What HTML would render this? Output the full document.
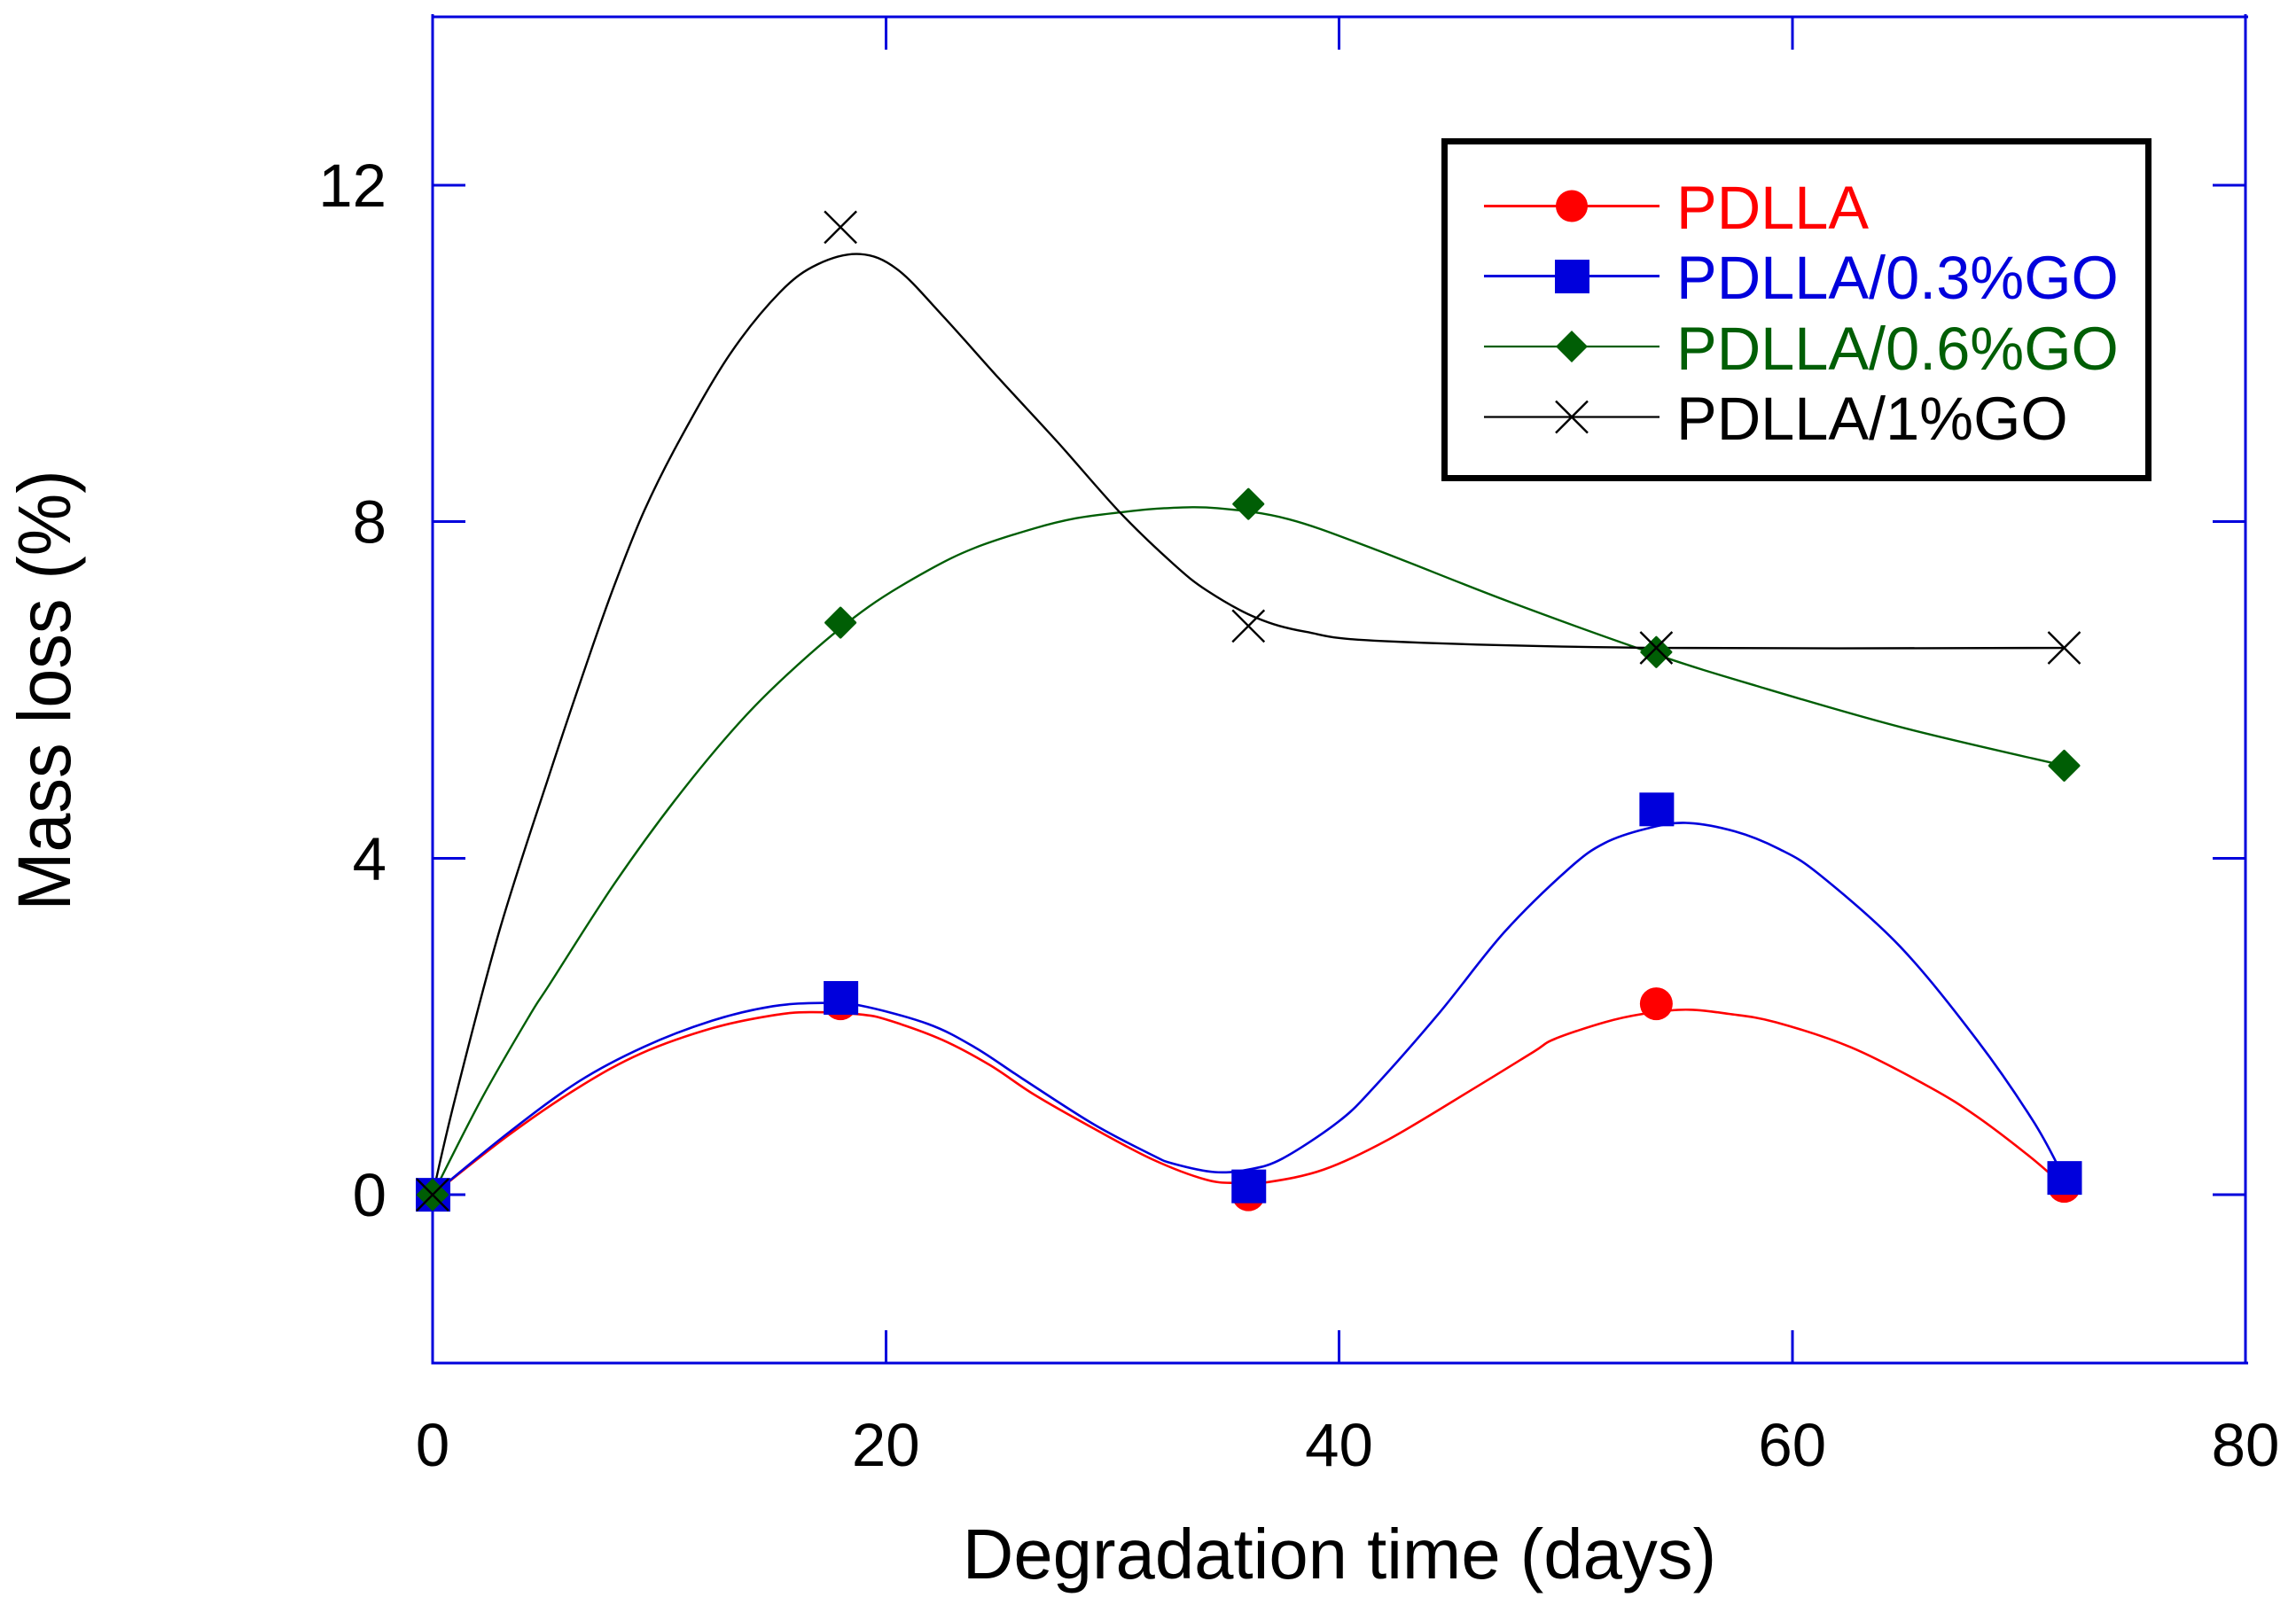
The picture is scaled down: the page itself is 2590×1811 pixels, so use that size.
<!DOCTYPE html>
<html lang="en">
<head>
<meta charset="utf-8">
<title>Mass loss vs degradation time</title>
<style>
html,body{margin:0;padding:0;background:#fff;width:2590px;height:1811px;overflow:hidden}
svg{display:block;font-family:"Liberation Sans",Arial,sans-serif}
</style>
</head>
<body>
<svg id="chart" xmlns="http://www.w3.org/2000/svg" width="2590" height="1811" viewBox="0 0 2590 1811">
  <rect x="0" y="0" width="2590" height="1811" fill="#ffffff"/>
  <g id="axes"></g>
  <g id="series"></g>
  <text x="1511" y="1781" font-size="79.7" text-anchor="middle" fill="#000">Degradation time (days)</text>
  <text transform="translate(79 779) rotate(-90) scale(0.99 1.06)" font-size="80" text-anchor="middle" fill="#000">Mass loss (%)</text>
  <g id="legend">
    <rect x="1629.5" y="159.5" width="794" height="380" fill="#fff" stroke="#000" stroke-width="7"/>
    <g>
      <line x1="1674" x2="1872" y1="232.5" y2="232.5" stroke="#ff0000" stroke-width="3"/>
      <circle cx="1773" cy="232.5" r="18" fill="#ff0000"/>
      <text x="1891" y="258" font-size="68.5" fill="#ff0000">PDLLA</text>
    </g>
    <g>
      <line x1="1674" x2="1872" y1="311.5" y2="311.5" stroke="#0000dc" stroke-width="3"/>
      <rect x="1754" y="293" width="39" height="38" fill="#0000dc"/>
      <text x="1891" y="337" font-size="68.5" fill="#0000dc">PDLLA/0.3%GO</text>
    </g>
    <g>
      <line x1="1674" x2="1872" y1="391" y2="391" stroke="#005e05" stroke-width="2.2"/>
      <polygon points="1773,373 1791,391 1773,409 1755,391" fill="#005e05"/>
      <text x="1891" y="417" font-size="68.5" fill="#005e05">PDLLA/0.6%GO</text>
    </g>
    <g>
      <line x1="1674" x2="1872" y1="470.5" y2="470.5" stroke="#000" stroke-width="2.2"/>
      <path d="M1755 452.5L1791 488.5M1791 452.5L1755 488.5" stroke="#000" stroke-width="2.4" fill="none"/>
      <text x="1891" y="496" font-size="68.5" fill="#000">PDLLA/1%GO</text>
    </g>
  </g>
</svg>
<script>
// Axis tick values
const xTicks = [0, 20, 40, 60, 80];
const yTicks = [0, 4, 8, 12];
const xInnerTicks = [20, 40, 60];

// Measured data points (days, mass loss %)
const days = [0, 18, 36, 54, 72];
const pdllaValues = [0, 2.27, 0, 2.27, 0.1];
const go03Values = [0, 2.34, 0.1, 4.58, 0.2];
const go06Values = [0, 6.8, 8.21, 6.45, 5.1];
const go1Values = [0, 11.5, 6.76, 6.5, 6.5];

// Smoothed curves as [day, mass loss %]
const pdllaCurve = [[0,0],[3.36,0.71],[6.47,1.28],[9.2,1.68],[12.34,1.98],[14.95,2.13],[16.64,2.17],[19,2.14],[20.29,2.06],[22.5,1.84],[24.6,1.54],[26.55,1.19],[29.16,0.79],[31.77,0.42],[34.12,0.18],[35.5,0.14],[36.85,0.15],[39.33,0.3],[42.2,0.66],[45.99,1.27],[48.59,1.7],[49.5,1.85],[51.72,2.05],[53.42,2.15],[55.3,2.2],[57.2,2.15],[59.28,2.05],[62.61,1.75],[66.06,1.28],[68.15,0.93],[70.5,0.45],[72,0.1]];
const go03Curve = [[0,0],[3.36,0.74],[6.47,1.35],[9.34,1.76],[12.34,2.07],[15,2.24],[17.16,2.28],[18.86,2.25],[21.86,2.03],[23.94,1.75],[26.03,1.38],[29.16,0.84],[31.77,0.47],[32.68,0.37],[34.5,0.27],[36,0.3],[37.5,0.43],[39.98,0.87],[41.55,1.28],[44.42,2.16],[47.29,3.12],[50.16,3.88],[51.72,4.18],[53.55,4.35],[55.3,4.42],[57.46,4.32],[59.42,4.11],[61.18,3.81],[64.76,2.95],[68.15,1.84],[70.67,0.86],[72,0.2]];
const go06Curve = [[0,0],[2.16,1.14],[4.3,2.14],[5.16,2.5],[8.03,3.7],[10.9,4.76],[13.84,5.7],[16.58,6.41],[19.25,6.99],[21.86,7.42],[23.94,7.69],[26.55,7.92],[28.38,8.04],[30.33,8.11],[32.29,8.16],[34.64,8.16],[37.77,8.03],[41.6,7.67],[47.4,7.06],[53.9,6.43],[58.4,6.05],[64.9,5.55],[72,5.1]];
const go1Curve = [[0,0],[0.99,1.14],[2.95,3.14],[5.16,5],[6.92,6.41],[8.03,7.25],[9.34,8.13],[10.9,8.97],[13.12,9.99],[15.34,10.73],[17,11.06],[18.86,11.18],[20.5,11],[22.5,10.45],[25,9.7],[27.6,8.94],[30.33,8.11],[32.68,7.5],[34.18,7.18],[36.33,6.86],[38.55,6.69],[42,6.58],[54,6.5],[72,6.5]];

const SVGNS = 'http://www.w3.org/2000/svg';
const LEFT = 488, RIGHT = 2533, TOP = 19, BOTTOM = 1538;
const X_MIN = 0, X_MAX = 80, Y_MIN = -2, Y_MAX = 14;
function xScale(v) { return LEFT + (v - X_MIN) / (X_MAX - X_MIN) * (RIGHT - LEFT); }
function yScale(v) { return BOTTOM - (v - Y_MIN) / (Y_MAX - Y_MIN) * (BOTTOM - TOP); }

const BLUE = '#0000dc', RED = '#ff0000', GREEN = '#005e05', BLACK = '#000000';
const axesGroup = document.getElementById('axes');
const seriesGroup = document.getElementById('series');

function makeLine(x1, y1, x2, y2, color, width) {
  const el = document.createElementNS(SVGNS, 'line');
  el.setAttribute('x1', x1);
  el.setAttribute('y1', y1);
  el.setAttribute('x2', x2);
  el.setAttribute('y2', y2);
  el.setAttribute('stroke', color);
  el.setAttribute('stroke-width', width);
  el.setAttribute('shape-rendering', 'crispEdges');
  return el;
}

// Frame
const frameLeft = makeLine(LEFT, TOP - 3, LEFT, BOTTOM + 1.5, BLUE, 3);


axesGroup.appendChild(frameLeft);
const frameRight = makeLine(RIGHT, TOP - 3, RIGHT, BOTTOM + 1.5, BLUE, 3);


axesGroup.appendChild(frameRight);
const frameTop = makeLine(LEFT - 1.5, TOP, RIGHT + 3, TOP, BLUE, 3);


axesGroup.appendChild(frameTop);
const frameBottom = makeLine(LEFT - 1.5, BOTTOM, RIGHT + 3, BOTTOM, BLUE, 3);


axesGroup.appendChild(frameBottom);

// Ticks
const TICK = 37;
xInnerTicks.forEach(function (t) {
  const bottomTick = makeLine(xScale(t), BOTTOM, xScale(t), BOTTOM - TICK, BLUE, 3);
  
  
  axesGroup.appendChild(bottomTick);
  const topTick = makeLine(xScale(t), TOP, xScale(t), TOP + TICK, BLUE, 3);
  
  
  axesGroup.appendChild(topTick);
});
yTicks.forEach(function (t) {
  const leftTick = makeLine(LEFT, yScale(t), LEFT + TICK, yScale(t), BLUE, 3);
  
  
  axesGroup.appendChild(leftTick);
  const rightTick = makeLine(RIGHT, yScale(t), RIGHT - TICK, yScale(t), BLUE, 3);
  
  
  axesGroup.appendChild(rightTick);
});

// Tick labels
xTicks.forEach(function (t) {
  const label = document.createElementNS(SVGNS, 'text');
  label.setAttribute('x', xScale(t));
  label.setAttribute('y', 1654);
  label.setAttribute('font-size', 69);
  label.setAttribute('text-anchor', 'middle');
  label.textContent = String(t);
  
  
  axesGroup.appendChild(label);
});
yTicks.forEach(function (t) {
  const label = document.createElementNS(SVGNS, 'text');
  label.setAttribute('x', 436);
  label.setAttribute('y', yScale(t) + 24);
  label.setAttribute('font-size', 69);
  label.setAttribute('text-anchor', 'end');
  label.textContent = String(t);
  
  
  axesGroup.appendChild(label);
});

// Smooth path through curve points (Catmull-Rom to Bezier)
function curvePath(points) {
  const p = points.map(function (d) { return [xScale(d[0]), yScale(d[1])]; });
  let d = 'M' + p[0][0].toFixed(2) + ' ' + p[0][1].toFixed(2);
  for (let i = 0; i < p.length - 1; i++) {
    const p0 = p[Math.max(i - 1, 0)], p1 = p[i], p2 = p[i + 1], p3 = p[Math.min(i + 2, p.length - 1)];
    const c1x = p1[0] + (p2[0] - p0[0]) / 6, c1y = p1[1] + (p2[1] - p0[1]) / 6;
    const c2x = p2[0] - (p3[0] - p1[0]) / 6, c2y = p2[1] - (p3[1] - p1[1]) / 6;
    d += 'C' + c1x.toFixed(2) + ' ' + c1y.toFixed(2) + ' ' + c2x.toFixed(2) + ' ' + c2y.toFixed(2) + ' ' + p2[0].toFixed(2) + ' ' + p2[1].toFixed(2);
  }
  return d;
}
function makeCurve(points, color, width) {
  const el = document.createElementNS(SVGNS, 'path');
  el.setAttribute('d', curvePath(points));
  el.setAttribute('fill', 'none');
  el.setAttribute('stroke', color);
  el.setAttribute('stroke-width', width);
  return el;
}

const pdllaLine = makeCurve(pdllaCurve, RED, 2.6);


seriesGroup.appendChild(pdllaLine);
const go03Line = makeCurve(go03Curve, BLUE, 2.6);


seriesGroup.appendChild(go03Line);
const go06Line = makeCurve(go06Curve, GREEN, 2.4);


seriesGroup.appendChild(go06Line);
const go1Line = makeCurve(go1Curve, BLACK, 2.4);


seriesGroup.appendChild(go1Line);

// Markers
days.forEach(function (day, i) {
  const c = document.createElementNS(SVGNS, 'circle');
  c.setAttribute('cx', xScale(day));
  c.setAttribute('cy', yScale(pdllaValues[i]));
  c.setAttribute('r', 18.5);
  c.setAttribute('fill', RED);
  
  
  seriesGroup.appendChild(c);
});
days.forEach(function (day, i) {
  const s = document.createElementNS(SVGNS, 'rect');
  s.setAttribute('x', xScale(day) - 19);
  s.setAttribute('y', yScale(go03Values[i]) - 19);
  s.setAttribute('width', 39);
  s.setAttribute('height', 38);
  s.setAttribute('fill', BLUE);
  
  
  seriesGroup.appendChild(s);
});
days.forEach(function (day, i) {
  const cx = xScale(day), cy = yScale(go06Values[i]), r = 16.5;
  const g = document.createElementNS(SVGNS, 'polygon');
  g.setAttribute('points', cx + ',' + (cy - r) + ' ' + (cx + r) + ',' + cy + ' ' + cx + ',' + (cy + r) + ' ' + (cx - r) + ',' + cy);
  g.setAttribute('fill', GREEN);
  g.setAttribute('stroke', GREEN);
  g.setAttribute('stroke-width', 3);
  g.setAttribute('stroke-linejoin', 'round');
  
  
  seriesGroup.appendChild(g);
});
days.forEach(function (day, i) {
  const cx = xScale(day), cy = yScale(go1Values[i]), r = 18;
  const x = document.createElementNS(SVGNS, 'path');
  x.setAttribute('d', 'M' + (cx - r) + ' ' + (cy - r) + 'L' + (cx + r) + ' ' + (cy + r) + 'M' + (cx + r) + ' ' + (cy - r) + 'L' + (cx - r) + ' ' + (cy + r));
  x.setAttribute('stroke', BLACK);
  x.setAttribute('stroke-width', 2.4);
  x.setAttribute('fill', 'none');
  
  
  seriesGroup.appendChild(x);
});
</script>
</body>
</html>
